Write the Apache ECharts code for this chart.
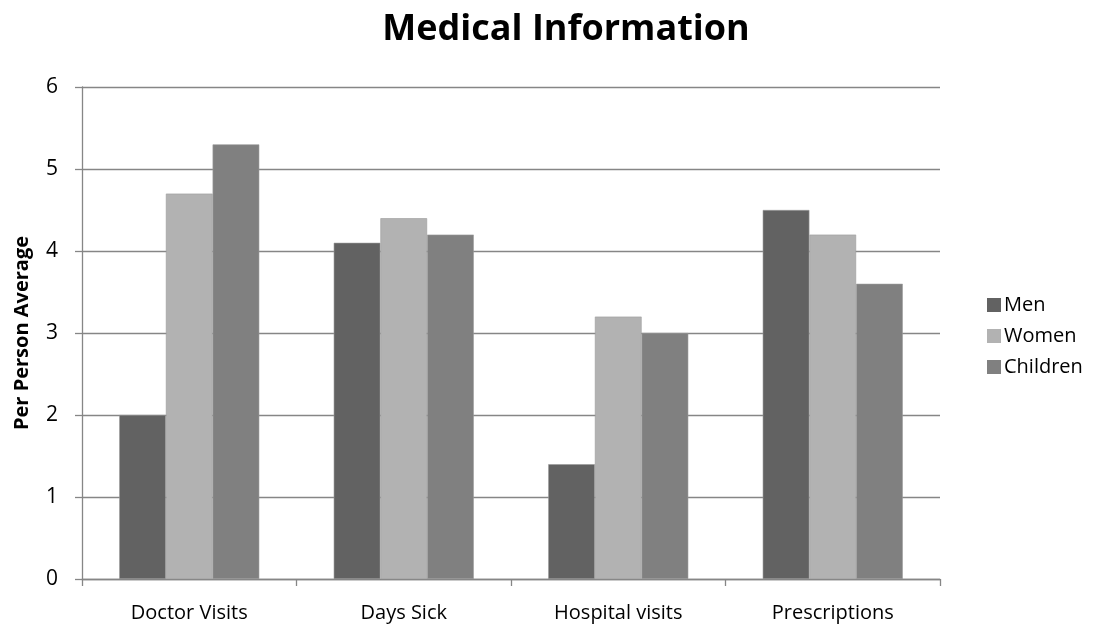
<!DOCTYPE html>
<html><head><meta charset="utf-8">
<script src="https://cdn.jsdelivr.net/npm/echarts@6/dist/echarts.min.js"></script>
<style>html,body{margin:0;padding:0;background:#fff}#c{width:1099px;height:629px}</style>
</head><body><div id="c"></div>
<script>
const categories = ["Doctor Visits", "Days Sick", "Hospital visits", "Prescriptions"];
const men = [2.0, 4.1, 1.4, 4.5];
const women = [4.7, 4.4, 3.2, 4.2];
const children = [5.3, 4.2, 3.0, 3.6];
const seriesNames = ["Men", "Women", "Children"];
const colors = ["#626262", "#b2b2b2", "#808080"];
const FONT = "Open Sans";

const chart = echarts.init(document.getElementById('c'), null, {renderer: 'canvas'});
const mk = (name, data, i) => ({
  name, type: 'bar', data, barGap: '0%', barCategoryGap: '34.7%',
  itemStyle: {color: colors[i], borderColor: '#9a9a9a', borderWidth: 0.6},
  emphasis: {disabled: true}
});
chart.setOption({
  animation: false,
  textStyle: {fontFamily: FONT},
  title: {text: 'Medical Information', left: 561, top: 7, textAlign: 'center',
    textStyle: {fontFamily: FONT, fontWeight: 'bold', fontSize: 36, color: '#000'}},
  legend: {orient: 'vertical', left: 982, top: 290, itemWidth: 14, itemHeight: 14, itemGap: 11,
    icon: 'rect', itemStyle: {borderWidth: 0},
    textStyle: {fontFamily: FONT, fontSize: 20, color: '#000', padding: [0,0,0,-2]},
    data: seriesNames},
  grid: {left: 82, right: 159, top: 87, bottom: 50, containLabel: false, outerBoundsMode: 'none'},
  xAxis: {type: 'category', data: categories,
    axisLine: {lineStyle: {color: '#868686', width: 1.3}},
    axisTick: {show: true, length: 7, inside: false, alignWithLabel: false, lineStyle: {color: '#868686', width: 1.3}},
    axisLabel: {fontFamily: FONT, fontSize: 20, color: '#000', margin: 24}},
  yAxis: {type: 'value', min: 0, max: 6, interval: 1,
    name: 'Per Person Average', nameLocation: 'middle', nameGap: 50, nameRotate: 90,
    nameTextStyle: {fontFamily: FONT, fontWeight: 'bold', fontSize: 20, color: '#000'},
    axisLine: {show: true, lineStyle: {color: '#868686', width: 1.3}},
    axisTick: {show: true, length: 7, lineStyle: {color: '#868686', width: 1.3}},
    axisLabel: {fontFamily: FONT, fontSize: 21, color: '#000', margin: 24},
    splitLine: {lineStyle: {color: '#868686', width: 1.3}}},
  series: [mk(seriesNames[0], men, 0), mk(seriesNames[1], women, 1), mk(seriesNames[2], children, 2)]
});
</script></body></html>
